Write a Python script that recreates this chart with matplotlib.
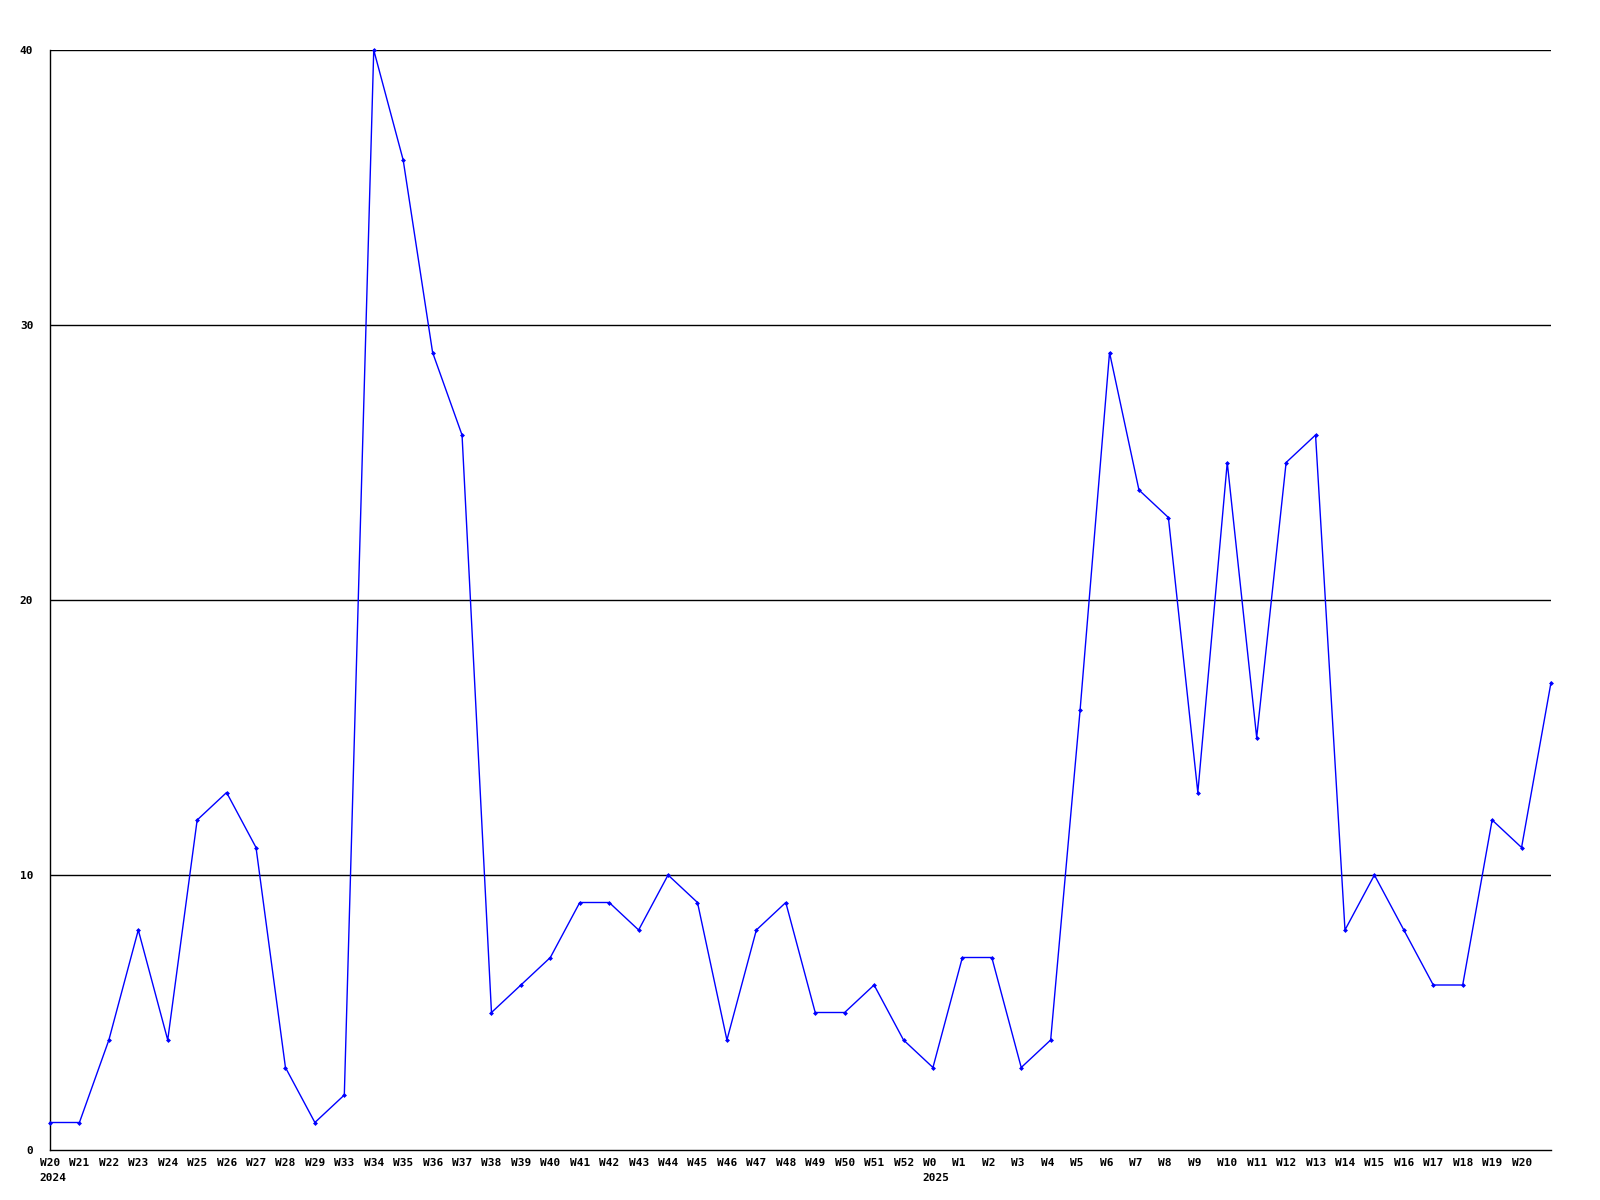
import matplotlib
matplotlib.use("Agg")
import matplotlib.pyplot as plt
from matplotlib.transforms import ScaledTranslation

# Weekly counts, W20 2024 through W21 2025 (last point has no label)
weeks = ['W20', 'W21', 'W22', 'W23', 'W24', 'W25', 'W26', 'W27', 'W28', 'W29',
         'W33', 'W34', 'W35', 'W36', 'W37', 'W38', 'W39', 'W40', 'W41', 'W42',
         'W43', 'W44', 'W45', 'W46', 'W47', 'W48', 'W49', 'W50', 'W51', 'W52',
         'W0', 'W1', 'W2', 'W3', 'W4', 'W5', 'W6', 'W7', 'W8', 'W9',
         'W10', 'W11', 'W12', 'W13', 'W14', 'W15', 'W16', 'W17', 'W18', 'W19',
         'W20', '']
values = [1, 1, 4, 8, 4, 12, 13, 11, 3, 1,
          2, 40, 36, 29, 26, 5, 6, 7, 9, 9,
          8, 10, 9, 4, 8, 9, 5, 5, 6, 4,
          3, 7, 7, 3, 4, 16, 29, 24, 23, 13,
          25, 15, 25, 26, 8, 10, 8, 6, 6, 12,
          11, 17]
year_marks = {0: '2024', 30: '2025'}
y_ticks = [0, 10, 20, 30, 40]

x = list(range(len(values)))

fig = plt.figure(figsize=(16, 12), dpi=100)
ax = fig.add_axes([50 / 1600, 50 / 1200, 1501 / 1600, 1100 / 1200])

font = dict(family='DejaVu Sans Mono', weight='bold', size=8)

for t in y_ticks[1:]:
    ax.axhline(t, color='black', lw=1, zorder=1)

ax.plot(x, values, color='#0000ff', lw=1, marker='D', markersize=2.5,
        markeredgewidth=0, zorder=3, clip_on=False)

ax.set_xlim(0, len(values) - 1)
ax.set_ylim(0, 40)
ax.set_xticks(x)
ax.set_xticklabels(weeks, fontdict=font)
ax.set_yticks(y_ticks)
ax.set_yticklabels([str(t) for t in y_ticks], fontdict=font)
ax.tick_params(length=0)
ax.tick_params(axis='x', pad=6)
ax.tick_params(axis='y', pad=12)

# labels start a little left of their point
shift = ScaledTranslation(-10 / 100, 0, fig.dpi_scale_trans)
for lbl in ax.get_xticklabels():
    lbl.set_horizontalalignment('left')
    lbl.set_transform(lbl.get_transform() + shift)

for idx, yr in year_marks.items():
    ax.annotate(yr, xy=(idx, 0), xycoords=('data', 'axes fraction'),
                xytext=(-7.5, -24), textcoords='offset points',
                ha='left', va='bottom', **font)

for side in ['top', 'right']:
    ax.spines[side].set_visible(False)
for side in ['left', 'bottom']:
    ax.spines[side].set_color('black')
    ax.spines[side].set_linewidth(1)

fig.savefig('out.png', dpi=100)
